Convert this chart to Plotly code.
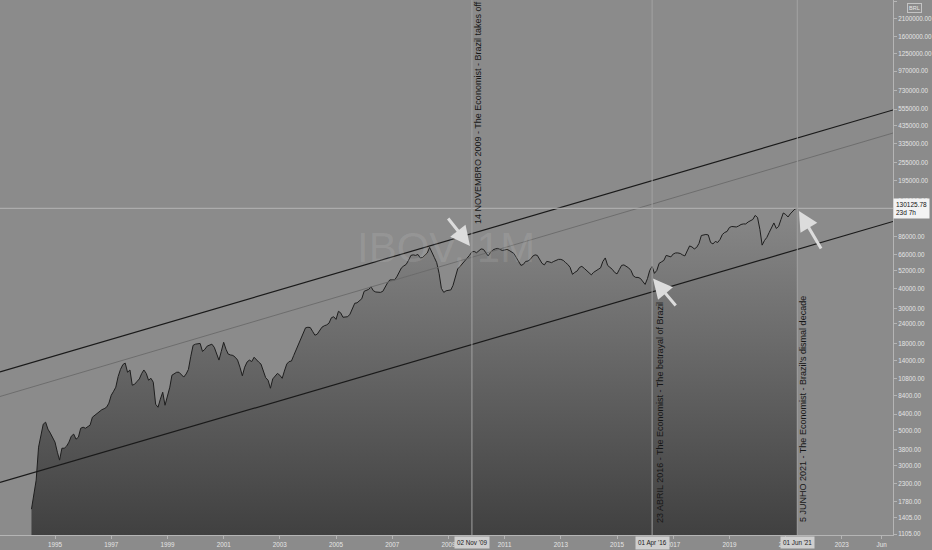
import math
import pandas as pd
import plotly.graph_objects as go

# ---------------- data (IBOV monthly) ----------------
first_month = "1994-03-01"
ibov_1994 = [1590, 1930, 2430, 3940, 4630, 5520, 5680, 5130, 4840, 4500]
ibov_1995 = [4240, 3660, 3260, 3880, 3880, 4000, 4240, 4630, 4770, 4430, 4560, 5200]
ibov_1996 = [5280, 5200, 5320, 5440, 6110, 6290, 6480, 6670, 6820, 6920, 7070, 7500]
ibov_1997 = [8430, 8940, 9480, 11100, 12300, 13200, 13500, 11800, 12200, 9760, 9900, 10300]
ibov_1998 = [10700, 11600, 12200, 11600, 10500, 10800, 10200, 7390, 7070, 7950, 8810, 7280]
ibov_1999 = [8310, 9480, 11300, 11600, 11800, 11800, 11300, 11000, 11500, 12300, 14900, 17500]
ibov_2000 = [17800, 18000, 18000, 16000, 16500, 17300, 17500, 17800, 17000, 15400, 14100, 16000]
ibov_2001 = [18300, 16500, 15400, 15200, 15100, 14700, 14100, 12700, 11200, 12700, 13700, 14100]
ibov_2002 = [13800, 14700, 14100, 13700, 13300, 11800, 10900, 10500, 9340, 10700, 11100, 11600]
ibov_2003 = [11300, 10800, 12000, 13300, 13800, 13900, 15100, 16400, 17800, 19300, 20900, 22600]
ibov_2004 = [22800, 22700, 21500, 20300, 20600, 21800, 22800, 23300, 23600, 24200, 26200, 26600]
ibov_2005 = [25600, 28800, 28200, 26400, 26400, 26600, 27600, 29600, 32400, 32600, 33800, 34600]
ibov_2006 = [38600, 39400, 39700, 41200, 38900, 38200, 38200, 38000, 38600, 41500, 43700, 45600]
ibov_2007 = [45600, 45600, 47700, 51700, 54400, 56000, 57200, 60700, 65300, 65800, 65300, 66200]
ibov_2008 = [62900, 63400, 65300, 67700, 73400, 67200, 63400, 58700, 50200, 40300, 38000, 38900]
ibov_2009 = [39100, 39400, 42100, 47300, 53600, 55600, 57700, 59800, 62900, 65300, 68700, 69200]
ibov_2010 = [67900, 69700, 71800, 71300, 68200, 64800, 68200, 70700, 71800, 72300, 71300, 70200]
ibov_2011 = [70700, 71300, 70200, 68900, 67200, 63400, 59800, 56400, 57200, 59800, 60100, 61600]
ibov_2012 = [64600, 65800, 65300, 62000, 58100, 56800, 59800, 59400, 58700, 59800, 61100, 61600]
ibov_2013 = [61600, 60700, 58900, 57200, 54800, 49500, 50900, 52000, 54800, 55600, 54000, 52400]
ibov_2014 = [50200, 49100, 50900, 52400, 53200, 54400, 59800, 62900, 56400, 54800, 53200, 50900]
ibov_2015 = [49800, 53200, 56400, 56800, 55600, 54400, 52400, 48400, 47300, 47300, 46600, 44600]
ibov_2016 = [42700, 46600, 52400, 55600, 50200, 52400, 58100, 59400, 60700, 65300, 64300, 63900]
ibov_2017 = [66700, 67700, 67700, 67200, 65800, 64800, 69700, 75000, 73900, 71800, 73400, 77800]
ibov_2018 = [87400, 88100, 88700, 88100, 78900, 77200, 80100, 78900, 82500, 88700, 91400, 92700]
ibov_2019 = [98300, 99700, 99000, 99000, 100500, 102700, 103500, 103500, 106500, 108100, 110500, 117200]
ibov_2020 = [113800, 95500, 75900, 81300, 84900, 91400, 98300, 105000, 96900, 99700, 110500, 121500]
ibov_2021 = [118900, 114600, 119800, 124200, 128800, 130125.78]

# channel (drawn trend lines), two anchor points each
channel_dates = ["1993-01-16", "2024-10-27"]
channel_upper = [11846, 549000]
channel_middle = [8273, 391800]
channel_lower = [2349, 107300]

# marked events
event_dates = ["2009-11-02", "2016-04-01", "2021-06-01"]
event_labels = ["02 Nov '09", "01 Apr '16", "01 Jun '21"]
event_texts = [
    "14 NOVEMBRO 2009 - The Economist - Brazil takes off",
    "23 ABRIL 2016 - The Economist - The betrayal of Brazil",
    "5 JUNHO 2021 - The Economist - Brazil's dismal decade",
]

# axis ticks
year_ticks = ["1995-01-01", "1997-01-01", "1999-01-01", "2001-01-01", "2003-01-01",
              "2005-01-01", "2007-01-01", "2009-01-01", "2011-01-01", "2013-01-01",
              "2015-01-01", "2017-01-01", "2019-01-01", "2021-01-01", "2023-01-01",
              "2024-06-01"]
year_labels = ["1995", "1997", "1999", "2001", "2003", "2005", "2007", "2009", "2011",
               "2013", "2015", "2017", "2019", "2021", "2023", "Jun"]
price_ticks = [1105, 1405, 1780, 2300, 3000, 3800, 5000, 6400, 8400, 10800, 14000,
               18000, 24000, 30000, 40000, 52000, 66000, 86000, 145000, 195000,
               255000, 335000, 435000, 555000, 730000, 970000, 1250000, 1600000,
               2100000, 2700000]

# ---------------- build ----------------
values = (ibov_1994 + ibov_1995 + ibov_1996 + ibov_1997 + ibov_1998 + ibov_1999 +
          ibov_2000 + ibov_2001 + ibov_2002 + ibov_2003 + ibov_2004 + ibov_2005 +
          ibov_2006 + ibov_2007 + ibov_2008 + ibov_2009 + ibov_2010 + ibov_2011 +
          ibov_2012 + ibov_2013 + ibov_2014 + ibov_2015 + ibov_2016 + ibov_2017 +
          ibov_2018 + ibov_2019 + ibov_2020 + ibov_2021)
dates = pd.date_range(first_month, periods=len(values), freq="MS")
last_value = values[-1]
floor_value = 1000  # just below the visible axis bottom, base for the area fill

BG = "#8b8b8b"
FONT = "Liberation Sans"
x_range = [channel_dates[0], channel_dates[1]]
y_range = [math.log10(1089), math.log10(2.747e6)]

fig = go.Figure()

# base of area
fig.add_trace(go.Scatter(x=dates, y=[floor_value] * len(dates), mode="lines",
                         line=dict(width=0, color=BG), hoverinfo="skip", showlegend=False))
# area + line
fig.add_trace(go.Scatter(
    x=dates, y=values, mode="lines",
    line=dict(color="#1e1e1e", width=1),
    fill="tonexty",
    fillgradient=dict(type="vertical",
                      colorscale=[[0, "#3f3f3f"], [1, "#888888"]]),
    hoverinfo="skip", showlegend=False))

# channel lines
fig.add_trace(go.Scatter(x=channel_dates, y=channel_upper, mode="lines",
                         line=dict(color="#1a1a1a", width=1.2), hoverinfo="skip"))
fig.add_trace(go.Scatter(x=channel_dates, y=channel_middle, mode="lines",
                         line=dict(color="#6a6a6a", width=0.9), hoverinfo="skip"))
fig.add_trace(go.Scatter(x=channel_dates, y=channel_lower, mode="lines",
                         line=dict(color="#1a1a1a", width=1.2), hoverinfo="skip"))

# horizontal crosshair at last value
fig.add_trace(go.Scatter(x=x_range, y=[last_value, last_value], mode="lines",
                         line=dict(color="#b4b4b4", width=1), hoverinfo="skip"))

shapes = []
for d in event_dates:
    shapes.append(dict(type="line", xref="x", yref="paper", x0=d, x1=d, y0=0, y1=1,
                       line=dict(color="#a2a2a2", width=1), layer="above"))

annotations = []
# watermark
annotations.append(dict(text="IBOV, 1M", xref="paper", yref="paper", x=0.4994, y=0.538,
                        xanchor="center", yanchor="middle", showarrow=False,
                        font=dict(size=42, family=FONT, color="rgba(255,255,255,0.10)")))
# vertical texts
text_pos = [(0.5353, 0.7888), (0.7391, 0.228), (0.8992, 0.2355)]
for t, (px, py) in zip(event_texts, text_pos):
    annotations.append(dict(text=t, xref="paper", yref="paper", x=px, y=py,
                            xanchor="center", yanchor="middle",
                            textangle=-90, showarrow=False,
                            font=dict(size=9, family=FONT, color="#161616")))
# arrows
arrow_defs = [(0.5263, 0.5402, -23, -29), (0.7312, 0.4794, 24, 28.5), (0.8947, 0.6056, 23, 39)]
for hx, hy, ax, ay in arrow_defs:
    annotations.append(dict(text="", xref="paper", yref="paper", x=hx, y=hy,
                            ax=ax, ay=ay, showarrow=True, arrowhead=2, arrowsize=1.3,
                            arrowwidth=3, arrowcolor="#dcdcdc", standoff=0))
# event date boxes on the time axis
for d, lab in zip(event_dates, event_labels):
    annotations.append(dict(text=lab, xref="x", yref="paper", x=d, y=0,
                            xanchor="center", yanchor="top",
                            showarrow=False, bgcolor="#cfcfcf", borderpad=2, yshift=-1,
                            font=dict(size=6.3, family=FONT, color="#1a1a1a")))
# last price label
annotations.append(dict(text="130125.78<br>23d 7h", xref="paper", yref="y", x=1.0,
                        y=math.log10(last_value), xanchor="left", yanchor="middle",
                        align="left", showarrow=False, bgcolor="#f3f3f3", borderpad=2,
                        font=dict(size=6.5, family=FONT, color="#111111")))
# currency badge
annotations.append(dict(text="BRL", xref="paper", yref="paper", x=1.0246, y=0.985,
                        xanchor="center", yanchor="middle",
                        showarrow=False, bordercolor="#c4c4c4", borderwidth=1, borderpad=1,
                        font=dict(size=5.5, family=FONT, color="#e6e6e6")))

fig.update_layout(
    width=932, height=550,
    margin=dict(l=0, r=39, t=0, b=15),
    paper_bgcolor=BG, plot_bgcolor=BG,
    showlegend=False, hovermode=False,
    shapes=shapes, annotations=annotations,
    xaxis=dict(type="date", range=x_range, tickvals=year_ticks, ticktext=year_labels,
               showgrid=False, zeroline=False, showline=True, linecolor="#b5b5b5",
               ticks="outside", ticklen=3, tickcolor="#b5b5b5",
               tickfont=dict(size=6.3, family=FONT, color="#e4e4e4")),
    yaxis=dict(type="log", side="right", range=y_range, tickvals=price_ticks,
               ticktext=[f"{v:.2f}" for v in price_ticks],
               showgrid=False, zeroline=False, showline=True, linecolor="#b5b5b5",
               ticks="outside", ticklen=3, tickcolor="#b5b5b5",
               tickfont=dict(size=6.3, family=FONT, color="#e4e4e4")),
)

fig.write_html("out.html", config={"displayModeBar": False},
               post_script="document.body.style.margin='0px';document.body.style.background='" + BG + "';")
